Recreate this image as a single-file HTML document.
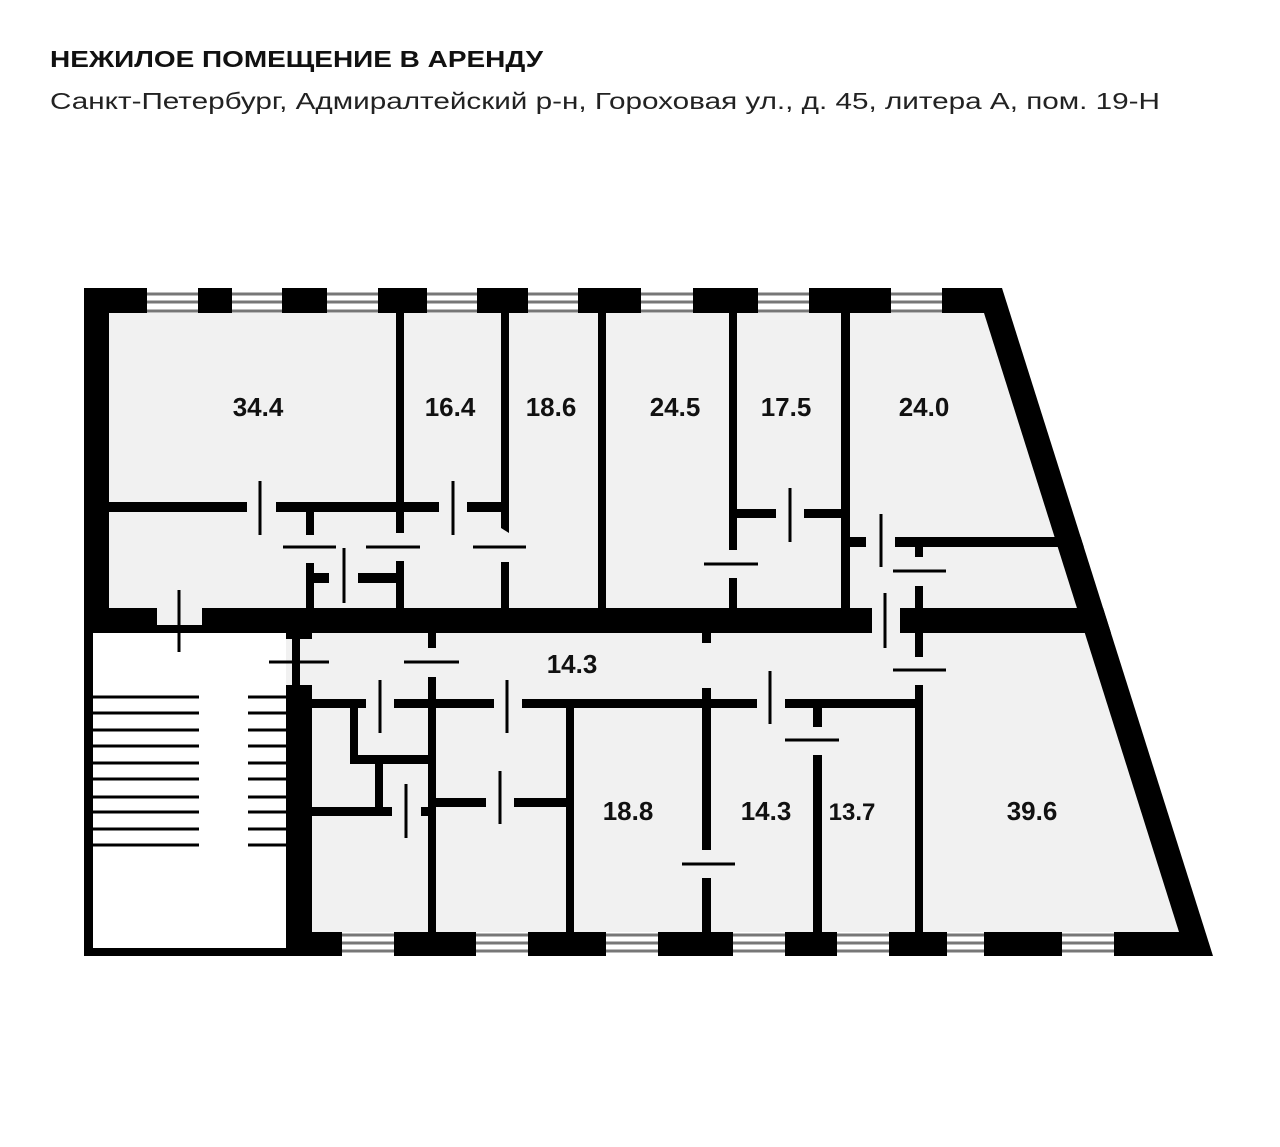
<!DOCTYPE html>
<html><head><meta charset="utf-8"><style>
html,body{margin:0;padding:0;background:#fff;}
svg{display:block;}
text{font-family:"Liberation Sans",Arial,sans-serif;}
</style></head><body>
<svg width="1280" height="1147" viewBox="0 0 1280 1147" xmlns="http://www.w3.org/2000/svg">
<defs><clipPath id="c"><polygon points="84,288 1002,288 1213,956 84,956"/></clipPath></defs>
<text x="50" y="67" font-size="23" font-weight="bold" fill="#111" textLength="493" lengthAdjust="spacingAndGlyphs">НЕЖИЛОЕ ПОМЕЩЕНИЕ В АРЕНДУ</text>
<text x="50" y="109" font-size="23" fill="#222" textLength="1110" lengthAdjust="spacingAndGlyphs">Санкт-Петербург, Адмиралтейский р-н, Гороховая ул., д. 45, литера А, пом. 19-Н</text>

<polygon points="84,288 1002,288 1213,956 84,956" fill="#000"/>
<polygon points="109,313 984,313 1179,932 109,932" fill="#f1f1f1"/>
<rect x="93" y="633" width="193" height="315" fill="#fff"/>
<rect x="84" y="633" width="9" height="323" fill="#000"/>
<rect x="84" y="948" width="228" height="8" fill="#000"/>

<g fill="#fff">
<rect x="147" y="288" width="51" height="25"/>
<rect x="232" y="288" width="50" height="25"/>
<rect x="327" y="288" width="51" height="25"/>
<rect x="427" y="288" width="50" height="25"/>
<rect x="528" y="288" width="50" height="25"/>
<rect x="641" y="288" width="52" height="25"/>
<rect x="758" y="288" width="51" height="25"/>
<rect x="891" y="288" width="51" height="25"/>
<rect x="342" y="932" width="52" height="24"/>
<rect x="476" y="932" width="52" height="24"/>
<rect x="606" y="932" width="52" height="24"/>
<rect x="733" y="932" width="52" height="24"/>
<rect x="837" y="932" width="52" height="24"/>
<rect x="947" y="932" width="37" height="24"/>
<rect x="1062" y="932" width="52" height="24"/>
</g>
<g stroke="#777" stroke-width="3">
<path d="M147 294H198M147 302H198M147 311H198 M232 294H282M232 302H282M232 311H282 M327 294H378M327 302H378M327 311H378 M427 294H477M427 302H477M427 311H477 M528 294H578M528 302H578M528 311H578 M641 294H693M641 302H693M641 311H693 M758 294H809M758 302H809M758 311H809 M891 294H942M891 302H942M891 311H942"/>
<path d="M342 935H394M342 943H394M342 951H394 M476 935H528M476 943H528M476 951H528 M606 935H658M606 943H658M606 951H658 M733 935H785M733 943H785M733 951H785 M837 935H889M837 943H889M837 951H889 M947 935H984M947 943H984M947 951H984 M1062 935H1114M1062 943H1114M1062 951H1114"/>
</g>

<g fill="#000" clip-path="url(#c)">
<rect x="84" y="608" width="73" height="25"/>
<rect x="157" y="625" width="45" height="8"/>
<rect x="202" y="608" width="670" height="25"/>
<rect x="900" y="608" width="250" height="25"/>
<rect x="396" y="313" width="8" height="220"/>
<rect x="396" y="561" width="8" height="47"/>
<polygon points="501,313 509,313 509,533 501,528"/>
<rect x="501" y="562" width="8" height="46"/>
<rect x="598" y="313" width="8" height="295"/>
<rect x="729" y="313" width="8" height="237"/>
<rect x="729" y="578" width="8" height="30"/>
<rect x="841" y="313" width="9" height="295"/>
<rect x="109" y="502" width="138" height="10"/>
<rect x="276" y="502" width="163" height="10"/>
<rect x="467" y="502" width="42" height="10"/>
<rect x="306" y="512" width="8" height="23"/>
<rect x="306" y="563" width="8" height="45"/>
<rect x="314" y="573" width="15" height="10"/>
<rect x="358" y="573" width="38" height="10"/>
<rect x="737" y="509" width="39" height="9"/>
<rect x="804" y="509" width="37" height="9"/>
<rect x="850" y="537" width="16" height="10"/>
<rect x="895" y="537" width="250" height="10"/>
<rect x="915" y="547" width="8" height="10"/>
<rect x="915" y="586" width="8" height="71"/>
<rect x="702" y="633" width="9" height="10"/>
<rect x="286" y="633" width="26" height="6"/>
<rect x="292" y="633" width="8" height="52"/>
<rect x="286" y="685" width="26" height="271"/>
<rect x="428" y="633" width="8" height="15"/>
<rect x="428" y="677" width="8" height="255"/>
<rect x="312" y="699" width="54" height="9"/>
<rect x="394" y="699" width="100" height="9"/>
<rect x="522" y="699" width="235" height="9"/>
<rect x="785" y="699" width="138" height="9"/>
<rect x="702" y="688" width="9" height="162"/>
<rect x="702" y="878" width="9" height="54"/>
<rect x="566" y="708" width="8" height="224"/>
<rect x="813" y="707" width="9" height="20"/>
<rect x="813" y="755" width="9" height="177"/>
<rect x="915" y="685" width="8" height="247"/>
<rect x="350" y="708" width="8" height="55"/>
<rect x="350" y="755" width="86" height="9"/>
<rect x="375" y="763" width="8" height="47"/>
<rect x="312" y="807" width="80" height="9"/>
<rect x="421" y="807" width="15" height="9"/>
<rect x="436" y="798" width="50" height="9"/>
<rect x="514" y="798" width="52" height="9"/>
</g>

<g stroke="#000" stroke-width="3">
<path d="M260 481V535 M453 481V535 M344 548V603 M790 488V542 M881 514V567 M885 593V648 M179 590V652 M380 680V733 M507 680V733 M770 671V724 M406 784V838 M500 771V824"/>
<path d="M283 547H336 M366 547H420 M473 547H526 M704 564H758 M893 571H946 M893 670H946 M269 662H329 M404 662H459 M682 864H735 M785 740H839"/>
<path d="M93 697H199M93 713H199M93 730H199M93 746H199M93 763H199M93 779H199M93 797H199M93 812H199M93 829H199M93 845H199"/>
<path d="M248 697H286M248 713H286M248 730H286M248 746H286M248 763H286M248 779H286M248 797H286M248 812H286M248 829H286M248 845H286"/>
</g>

<g font-size="26" font-weight="bold" fill="#111" text-anchor="middle">
<text x="258" y="416">34.4</text>
<text x="450" y="416">16.4</text>
<text x="551" y="416">18.6</text>
<text x="675" y="416">24.5</text>
<text x="786" y="416">17.5</text>
<text x="924" y="416">24.0</text>
<text x="572" y="673">14.3</text>
<text x="628" y="820">18.8</text>
<text x="766" y="820">14.3</text>
<text x="852" y="820" font-size="24">13.7</text>
<text x="1032" y="820">39.6</text>
</g>
</svg>
</body></html>
